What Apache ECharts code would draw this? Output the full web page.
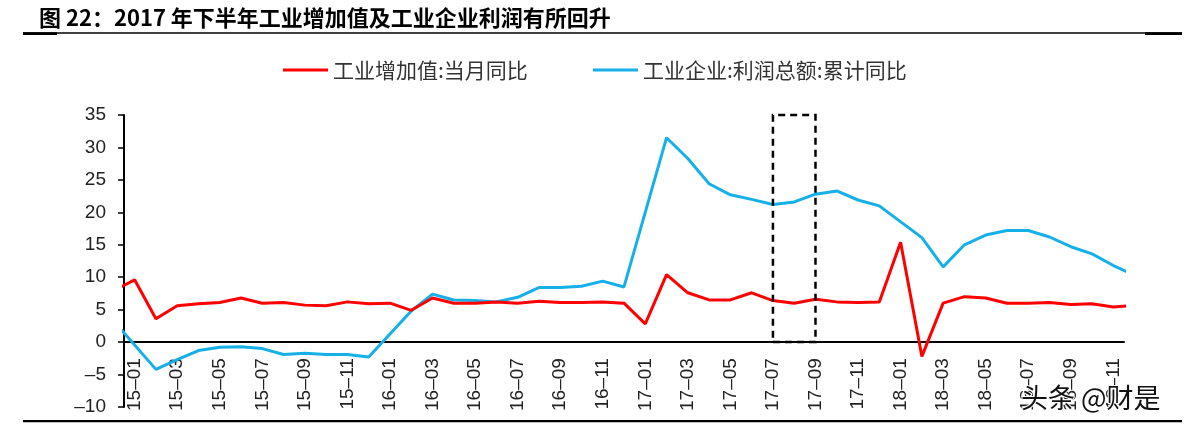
<!DOCTYPE html>
<html>
<head>
<meta charset="utf-8">
<script src="https://cdn.jsdelivr.net/npm/echarts@6/dist/echarts.min.js"></script>
<style>
  html, body { margin: 0; padding: 0; background: #fff; }
  #mainChart { width: 1198px; height: 427px; }
</style>
</head>
<body>
<div id="mainChart"></div>
<script>
// 月份 (14-12 与 18-12 只用于画出两端被截断的线段)
var months = [
  '14-12',
  '15-01', '15-02', '15-03', '15-04', '15-05', '15-06', '15-07', '15-08', '15-09', '15-10', '15-11', '15-12',
  '16-01', '16-02', '16-03', '16-04', '16-05', '16-06', '16-07', '16-08', '16-09', '16-10', '16-11', '16-12',
  '17-01', '17-02', '17-03', '17-04', '17-05', '17-06', '17-07', '17-08', '17-09', '17-10', '17-11', '17-12',
  '18-01', '18-02', '18-03', '18-04', '18-05', '18-06', '18-07', '18-08', '18-09', '18-10', '18-11', '18-12'
]
// 工业增加值:当月同比
var valueAdded = [
  7.9,
  9.6, 3.6, 5.6, 5.9, 6.1, 6.8, 6.0, 6.1, 5.7, 5.6, 6.2, 5.9,
  6.0, 4.9, 6.8, 6.0, 6.0, 6.2, 6.0, 6.3, 6.1, 6.1, 6.2, 6.0,
  2.8, 10.4, 7.6, 6.5, 6.5, 7.6, 6.4, 6.0, 6.6, 6.2, 6.1, 6.2,
  15.4, -2.2, 6.0, 7.0, 6.8, 6.0, 6.0, 6.1, 5.8, 5.9, 5.4, 5.7
]
// 工业企业:利润总额:累计同比 (1月无数据)
var profit = [
  3.3,
  null, -4.2, -2.7, -1.3, -0.8, -0.7, -1.0, -1.9, -1.7, -1.9, -1.9, -2.3,
  null, 4.8, 7.4, 6.5, 6.4, 6.2, 6.9, 8.4, 8.4, 8.6, 9.4, 8.5,
  null, 31.5, 28.3, 24.4, 22.7, 22.0, 21.2, 21.6, 22.8, 23.3, 21.9, 21.0,
  null, 16.1, 11.6, 15.0, 16.5, 17.2, 17.2, 16.2, 14.7, 13.6, 11.8, 10.3
]
var yTicks = [-10, 35, 5]
var boxRange = ['17-07', '17-09', 0, 35.4]

var names = ['工业增加值:当月同比', '工业企业:利润总额:累计同比']
var titleText = '图 22：2017 年下半年工业增加值及工业企业利润有所回升'
var redColor = '#ff0000'
var blueColor = '#16b0e9'
var cjkFont = '"Noto Sans CJK SC", sans-serif'
var numFont = '"Liberation Sans", Arial, sans-serif'

var gridTop = 115
var gridHeight = 292
// x 轴放在 0 的位置: 相对底边上移的距离
var zeroOffset = -gridHeight * (0 - yTicks[0]) / (yTicks[1] - yTicks[0])

// 只显示奇数月 (15-01, 15-03 ...)
function oddMonth (index) {
  return index % 2 === 1
}

var chart = echarts.init(document.getElementById('mainChart'))

var legendStyle = {
  fontSize: 21,
  color: '#333',
  fontFamily: cjkFont,
  lineHeight: 22
}

var option = {
  animation: false,
  backgroundColor: '#fff',
  title: {
    text: titleText,
    left: 34,
    top: 2,
    textStyle: {
      fontSize: 22,
      fontWeight: 'bold',
      color: '#000',
      fontFamily: cjkFont
    }
  },
  legend: [
    {
      data: [names[0]],
      left: 278,
      top: 54,
      icon: 'rect',
      itemWidth: 45,
      itemHeight: 3,
      textStyle: legendStyle
    },
    {
      data: [names[1]],
      left: 588,
      top: 54,
      icon: 'rect',
      itemWidth: 45,
      itemHeight: 3,
      textStyle: legendStyle
    }
  ],
  grid: {
    left: 124,
    top: gridTop,
    width: 1000,
    height: gridHeight,
    containLabel: false,
    outerBoundsMode: 'none'
  },
  xAxis: {
    type: 'category',
    data: months,
    min: 1,
    max: 47,
    boundaryGap: true,
    position: 'bottom',
    offset: zeroOffset,
    axisLine: { onZero: false, lineStyle: { color: '#000', width: 2 } },
    axisTick: { interval: oddMonth, length: 6, lineStyle: { color: '#000', width: 1.5 } },
    axisLabel: {
      interval: oddMonth,
      rotate: 90,
      margin: 16,
      fontSize: 19,
      color: '#222',
      fontFamily: numFont,
      formatter: function (v) { return v.replace('-', '–') }
    },
    splitLine: { show: false }
  },
  yAxis: {
    type: 'value',
    min: yTicks[0],
    max: yTicks[1],
    interval: yTicks[2],
    axisLine: { show: true, lineStyle: { color: '#000', width: 2 } },
    axisTick: { show: true, length: 6, lineStyle: { color: '#000', width: 1.5 } },
    axisLabel: {
      margin: 18,
      fontSize: 19,
      color: '#222',
      fontFamily: numFont,
      formatter: function (v) { return String(v).replace('-', '–') }
    },
    splitLine: { show: false }
  },
  series: [
    {
      name: names[0],
      type: 'line',
      data: valueAdded,
      symbol: 'none',
      connectNulls: true,
      itemStyle: { color: redColor },
      lineStyle: { color: redColor, width: 3 },
      z: 3,
      markArea: {
        silent: true,
        z: 10,
        itemStyle: {
          color: 'rgba(0,0,0,0)',
          borderColor: '#000',
          borderWidth: 2.5,
          borderType: [7, 5]
        },
        data: [[
          { xAxis: boxRange[0], yAxis: boxRange[2] },
          { xAxis: boxRange[1], yAxis: boxRange[3] }
        ]]
      }
    },
    {
      name: names[1],
      type: 'line',
      data: profit,
      symbol: 'none',
      connectNulls: true,
      itemStyle: { color: blueColor },
      lineStyle: { color: blueColor, width: 3 },
      z: 2
    }
  ],
  graphic: [
    // 标题下的横线
    { type: 'line', shape: { x1: 23, y1: 33, x2: 1182, y2: 33 }, style: { stroke: '#000', lineWidth: 1.3 }, silent: true },
    { type: 'line', shape: { x1: 23, y1: 33.6, x2: 57, y2: 33.6 }, style: { stroke: '#000', lineWidth: 2.6 }, silent: true },
    { type: 'line', shape: { x1: 1145, y1: 33.6, x2: 1182, y2: 33.6 }, style: { stroke: '#000', lineWidth: 2.6 }, silent: true },
    // 底部横线
    { type: 'line', shape: { x1: 23, y1: 421.2, x2: 1182, y2: 421.2 }, style: { stroke: '#000', lineWidth: 2.3 }, silent: true },
    // 水印
    {
      type: 'text',
      left: 1020,
      top: 383,
      z: 100,
      style: {
        text: '头条 @财是',
        fontSize: 27,
        fontFamily: cjkFont,
        fill: '#111',
        stroke: '#fff',
        lineWidth: 2
      },
      silent: true
    }
  ]
}

chart.setOption(option)
</script>
</body>
</html>
